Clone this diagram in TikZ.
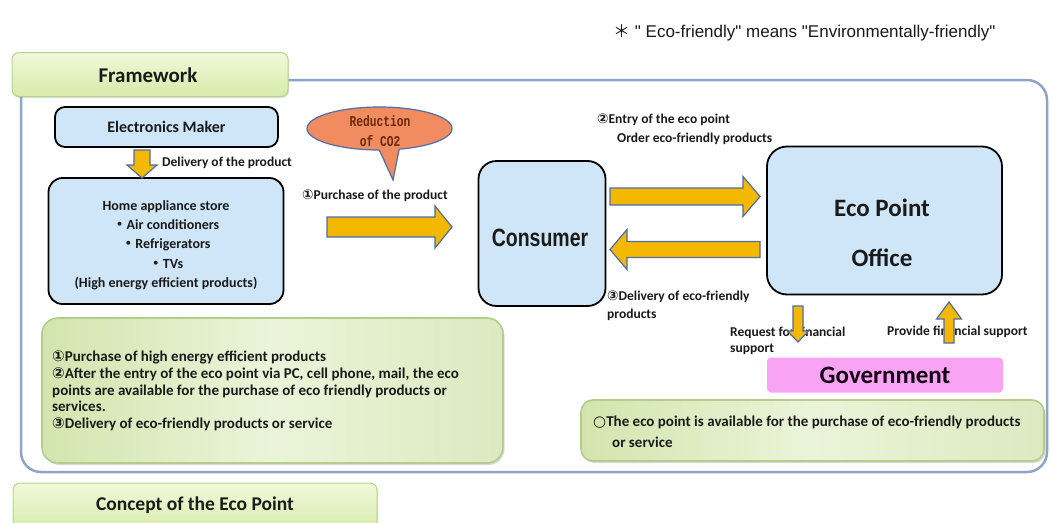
\documentclass[tikz,border=0pt]{standalone}
\usepackage{fontspec}
\setmainfont{Carlito}
\newfontfamily\symf{DejaVu Sans}
\newfontfamily\cjkf{Noto Sans CJK JP}
\newfontfamily\arialf{Liberation Sans}
\newfontfamily\monof{Liberation Mono}
\usepackage{graphicx}
\usetikzlibrary{shadows}
\definecolor{boxblue}{HTML}{CFE6F8}
\definecolor{arrfill}{HTML}{F5B800}
\definecolor{arrline}{HTML}{4F6DA8}
\definecolor{framecol}{HTML}{8FA4C8}
\definecolor{tabtop}{HTML}{F1F9DA}
\definecolor{tabbot}{HTML}{D6EAA8}
\definecolor{tabline}{HTML}{B9D28F}
\definecolor{gL}{HTML}{D3E5AE}
\definecolor{gM}{HTML}{EBF4D9}
\definecolor{gR}{HTML}{DCE9C0}
\definecolor{gline}{HTML}{B4CC8C}
\definecolor{govpink}{HTML}{F9A3F4}
\definecolor{bubble}{HTML}{F08C60}
\definecolor{bubtext}{HTML}{6A2A0C}
\definecolor{txt}{HTML}{1A1A1A}
\newcommand{\cirA}{{\symf ①}}
\newcommand{\cirB}{{\symf ②}}
\newcommand{\cirC}{{\symf ③}}
\newcommand{\kdot}{{\cjkf ・}}
% horizontal block arrow: x-start, x-tip, y-centre, shaft half, head half, head length (signed)
\newcommand{\yharr}[6]{\draw[yarrow] (#1,{#3-(#4)}) -- ({#2-(#6)},{#3-(#4)}) -- ({#2-(#6)},{#3-(#5)}) -- (#2,#3) -- ({#2-(#6)},{#3+(#5)}) -- ({#2-(#6)},{#3+(#4)}) -- (#1,{#3+(#4)}) -- cycle;}
% vertical block arrow: y-start, y-tip, x-centre, shaft half, head half, head length (signed)
\newcommand{\yvarr}[6]{\draw[yarrow] ({#3-(#4)},#1) -- ({#3-(#4)},{#2-(#6)}) -- ({#3-(#5)},{#2-(#6)}) -- (#3,#2) -- ({#3+(#5)},{#2-(#6)}) -- ({#3+(#4)},{#2-(#6)}) -- ({#3+(#4)},#1) -- cycle;}
\begin{document}
\begin{tikzpicture}[x=1pt,y=-1pt,
  yarrow/.style={fill=arrfill, draw=arrline, line width=1.2pt, line join=miter},
  tabbox/.style={draw=tabline, line width=1pt, rounded corners=7pt, top color=tabtop, bottom color=tabbot,
     drop shadow={opacity=0.25, shadow xshift=1pt, shadow yshift=-1.5pt}},
  greenbox/.style={draw=gline, line width=1.6pt, rounded corners=16pt, left color=gL, right color=gR, middle color=gM,
     drop shadow={opacity=0.3, shadow xshift=1.5pt, shadow yshift=-2pt}},
  bluebox/.style={draw=black, line width=1.8pt, fill=boxblue, rounded corners=10pt},
  lbl/.style={font=\bfseries\fontsize{13.5}{16}\selectfont, text=txt, inner sep=0pt, anchor=west},
  tabtext/.style={font=\bfseries\fontsize{20}{24}\selectfont, text=txt, inner sep=0pt}
]
\useasboundingbox (0,0) rectangle (1051,522);
\fill[white] (0,0) rectangle (1051,522);

% note
\node[anchor=west, inner sep=0pt, font=\arialf\fontsize{17}{19}\selectfont, text=txt] (note) at (613,33)
  {{\cjkf ＊} " Eco-friendly" means "Environmentally-friendly"};

% outer frame
\node[draw=framecol, line width=2.5pt, rounded corners=20pt, minimum width=1026pt, minimum height=392pt, inner sep=0pt] (frame) at (534,276) {};

% tabs
\node[tabbox, minimum width=276pt, minimum height=44pt] (fw) at (150,74.5) {};
\node[tabtext, font=\bfseries\fontsize{21}{24}\selectfont] (fwtxt) at (148,75) {Framework};
\node[tabbox, minimum width=364pt, minimum height=52pt] (concept) at (195,509) {};
\node[tabtext, font=\bfseries\fontsize{19.5}{24}\selectfont] (concepttxt) at (195,505) {Concept of the Eco Point};

% left boxes
\node[bluebox, minimum width=223pt, minimum height=40pt, font=\bfseries\fontsize{16}{19}\selectfont, text=txt] (maker) at (166.5,127) {Electronics Maker};
\node[bluebox, rounded corners=14pt, minimum width=235pt, minimum height=126pt] (store) at (166,241) {};
\node[inner sep=0pt, align=center, font=\bfseries\fontsize{14}{19.3}\selectfont, text=txt] (storetxt) at (166,245)
  {Home appliance store\\ \kdot Air conditioners\\ \kdot Refrigerators\\ \kdot TVs\\ (High energy efficient products)};

% consumer and eco point office
\node[bluebox, rounded corners=18pt, minimum width=127pt, minimum height=145pt] (cons) at (542,233.5) {};
\node[inner sep=0pt, font=\arialf\bfseries\fontsize{25}{28}\selectfont, text=txt] (constxt) at (540,238) {\scalebox{0.78}[1]{Consumer}};
\node[bluebox, rounded corners=20pt, minimum width=235pt, minimum height=148pt] (eco) at (884.5,220.5) {};
\node[inner sep=0pt, font=\bfseries\fontsize{25}{28}\selectfont, text=txt] (ecot1) at (882,208) {Eco Point};
\node[inner sep=0pt, font=\bfseries\fontsize{25}{28}\selectfont, text=txt] (ecot2) at (882,258) {Office};

% government
\node[fill=govpink, rounded corners=4pt, minimum width=236pt, minimum height=35pt, inner sep=0pt,
  font=\bfseries\fontsize{25}{28}\selectfont, text={black!85!violet}] (gov) at (885,375) {Government};

% green info boxes
\node[greenbox, minimum width=461pt, minimum height=145pt] (gleft) at (272.5,390.5) {};
\node[anchor=west, align=left, inner sep=0pt, font=\bfseries\fontsize{15}{16.6}\selectfont, text=txt] (gltext) at (52,391)
  {\cirA Purchase of high energy efficient products\\
   \cirB After the entry of the eco point via PC, cell phone, mail, the eco\\
   points are available for the purchase of eco friendly products or\\
   services.\\
   \cirC Delivery of eco-friendly products or service};
\node[greenbox, rounded corners=12pt, minimum width=463pt, minimum height=61pt] (gright) at (812.5,430.5) {};
\node[anchor=west, align=left, inner sep=0pt, font=\bfseries\fontsize{15}{21}\selectfont, text=txt] (grtext) at (593,432)
  {{\symf ○}The eco point is available for the purchase of eco-friendly products\\ \hspace*{19pt}or service};

% speech bubble
\draw[fill=bubble, draw=arrline, line width=1.2pt] (379.5,128.5) ellipse [x radius=72.5, y radius=21.5];
\fill[bubble] (377,145) -- (393,180) -- (400,145) -- cycle;
\draw[arrline, line width=1.2pt, line join=miter] (379.3,150) -- (393,180) -- (399.2,149.2);
\node[align=center, inner sep=0pt, font=\monof\bfseries\fontsize{15}{20}\selectfont, text=bubtext] (co2) at (380,131)
  {\scalebox{0.75}[1]{Reduction}\\\scalebox{0.75}[1]{of CO2}};

% labels
\node[lbl] (deliv) at (162,163) {Delivery of the product};
\node[lbl] (purch) at (302,196) {\cirA Purchase of the product};
\node[lbl] (entry) at (597,120) {\cirB Entry of the eco point};
\node[lbl] (order) at (617,139) {Order eco-friendly products};
\node[lbl] (deliv3a) at (607,297) {\cirC Delivery of eco-friendly};
\node[lbl] (deliv3b) at (607,315) {products};
\node[lbl] (reqa) at (730,333) {Request for financial};
\node[lbl] (reqb) at (730,349) {support};
\node[lbl] (prov) at (887,332) {Provide financial support};

% block arrows
\yvarr{150}{178}{142}{8}{15}{13}
\yharr{327}{452}{227}{10}{21}{17}
\yharr{610}{760}{196.5}{8.5}{20}{17}
\yharr{760}{610}{249.5}{8}{20}{-17}
\yvarr{306}{342}{798}{5}{10.5}{11}
\yvarr{343}{302}{949}{5}{12.5}{-17}
\end{tikzpicture}
\end{document}
